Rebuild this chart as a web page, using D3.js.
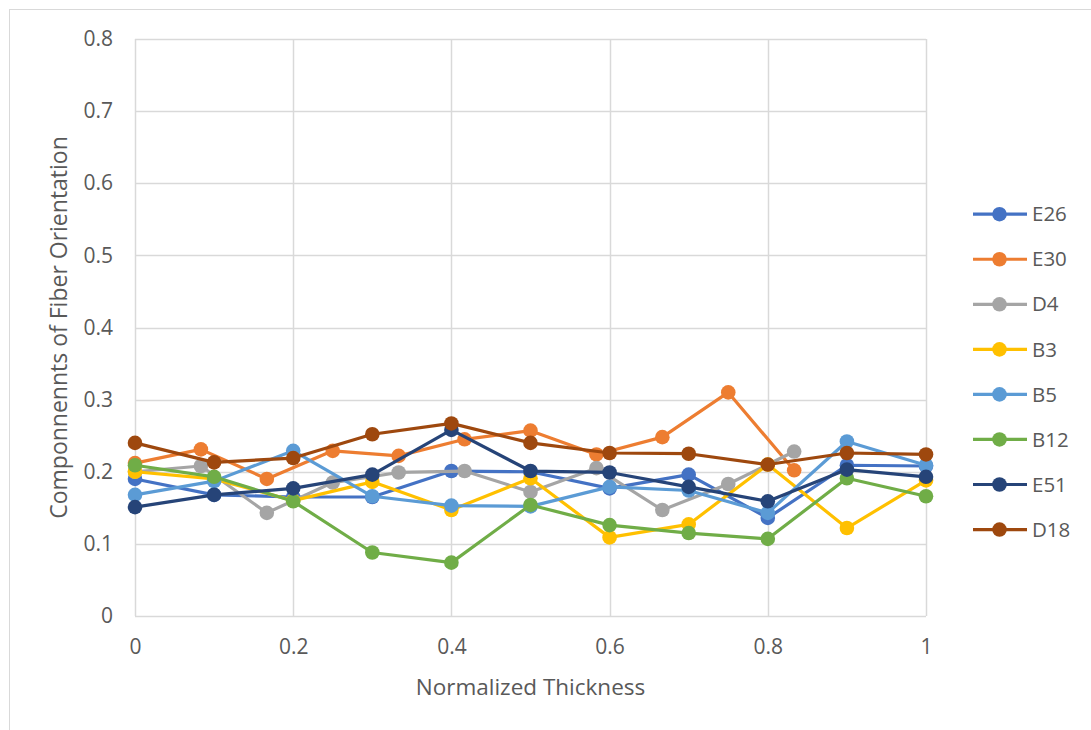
<!DOCTYPE html>
<html>
<head>
<meta charset="utf-8">
<script src="https://cdn.jsdelivr.net/npm/d3@7"></script>
<style>
  html, body { margin: 0; padding: 0; background: #fff; }
  svg { display: block; font-family: "Open Sans", sans-serif; }
</style>
</head>
<body>
<svg id="chart" width="1091" height="730"></svg>
<script>
// Sample positions along the normalized thickness
const xTenths = [0, 0.1, 0.2, 0.3, 0.4, 0.5, 0.6, 0.7, 0.8, 0.9, 1];
const xTwelfths = [0, 1/12, 2/12, 3/12, 4/12, 5/12, 6/12, 7/12, 8/12, 9/12, 10/12];

// Fiber orientation components per specimen
const E26 = [0.190, 0.168, 0.165, 0.165, 0.201, 0.200, 0.177, 0.196, 0.136, 0.209, 0.208];
const E30 = [0.212, 0.231, 0.190, 0.229, 0.222, 0.245, 0.257, 0.224, 0.248, 0.310, 0.202];
const D4  = [0.200, 0.208, 0.143, 0.185, 0.199, 0.201, 0.172, 0.205, 0.147, 0.183, 0.228];
const B3  = [0.200, 0.190, 0.160, 0.186, 0.147, 0.191, 0.109, 0.127, 0.210, 0.122, 0.188];
const B5  = [0.168, 0.187, 0.229, 0.166, 0.153, 0.152, 0.179, 0.174, 0.143, 0.242, 0.209];
const B12 = [0.209, 0.193, 0.159, 0.088, 0.074, 0.154, 0.126, 0.115, 0.107, 0.191, 0.166];
const E51 = [0.151, 0.168, 0.177, 0.196, 0.258, 0.201, 0.199, 0.179, 0.159, 0.203, 0.193];
const D18 = [0.240, 0.213, 0.219, 0.252, 0.267, 0.240, 0.226, 0.225, 0.210, 0.226, 0.224];

const seriesNames = ["E26", "E30", "D4", "B3", "B5", "B12", "E51", "D18"];
const seriesColors = ["#4472C4", "#ED7D31", "#A5A5A5", "#FFC000", "#5B9BD5", "#70AD47", "#264478", "#9E480E"];

const xTicks = [0, 0.2, 0.4, 0.6, 0.8, 1];
const yTicks = [0, 0.1, 0.2, 0.3, 0.4, 0.5, 0.6, 0.7, 0.8];

const xTitle = "Normalized Thickness";
const yTitle = "Componnennts of Fiber Orientation";

const series = [
  { name: "E26", x: xTenths, y: E26 },
  { name: "E30", x: xTwelfths, y: E30 },
  { name: "D4", x: xTwelfths, y: D4 },
  { name: "B3", x: xTenths, y: B3 },
  { name: "B5", x: xTenths, y: B5 },
  { name: "B12", x: xTenths, y: B12 },
  { name: "E51", x: xTenths, y: E51 },
  { name: "D18", x: xTenths, y: D18 }
].map(s => ({ ...s, points: s.x.map((xv, i) => ({ x: xv, y: s.y[i] })) }));

const color = d3.scaleOrdinal().domain(seriesNames).range(seriesColors);

const svg = d3.select("#chart");
const W = 1091, H = 730;
const plot = { left: 135, right: 926, top: 39, bottom: 616 };

// Outer chart frame
svg.append("rect")
  .attr("x", 9.5).attr("y", 9.5)
  .attr("width", W + 20).attr("height", H + 20)
  .attr("fill", "#fff").attr("stroke", "#d9d9d9").attr("stroke-width", 1);

const x = d3.scaleLinear().domain([0, 1]).range([plot.left, plot.right]);
const y = d3.scaleLinear().domain([0, 0.8]).range([plot.bottom, plot.top]);

// Gridlines
const grid = svg.append("g").attr("class", "grid");
grid.selectAll("line.h").data(yTicks).join("line")
  .attr("class", "h")
  .attr("x1", plot.left).attr("x2", plot.right)
  .attr("y1", d => Math.round(y(d)) + 0.5).attr("y2", d => Math.round(y(d)) + 0.5)
  .attr("stroke", "#d9d9d9").attr("stroke-width", 1.5);
grid.selectAll("line.v").data(xTicks).join("line")
  .attr("class", "v")
  .attr("y1", plot.top).attr("y2", plot.bottom)
  .attr("x1", d => Math.round(x(d)) + 0.5).attr("x2", d => Math.round(x(d)) + 0.5)
  .attr("stroke", "#d9d9d9").attr("stroke-width", 1.5);

// Axes (labels only; lines come from the grid)
const xAxis = svg.append("g")
  .attr("transform", `translate(0,${plot.bottom})`)
  .call(d3.axisBottom(x).tickValues(xTicks).tickFormat(d3.format("~g")).tickSize(0).tickPadding(23));
const yAxis = svg.append("g")
  .attr("transform", `translate(${plot.left},0)`)
  .call(d3.axisLeft(y).tickValues(yTicks).tickFormat(d3.format("~g")).tickSize(0).tickPadding(22));
[xAxis, yAxis].forEach(a => {
  a.select(".domain").remove();
  a.selectAll("text").attr("fill", "#595959").attr("font-size", 21).attr("font-family", "Open Sans, sans-serif");
});

// Axis titles
svg.append("text")
  .attr("x", (plot.left + plot.right) / 2).attr("y", 695)
  .attr("text-anchor", "middle").attr("fill", "#595959").attr("font-size", 22.5)
  .text(xTitle);
svg.append("text")
  .attr("transform", `translate(67,${(plot.top + plot.bottom) / 2}) rotate(-90)`)
  .attr("text-anchor", "middle").attr("fill", "#595959").attr("font-size", 23)
  .text(yTitle);

// Series lines and markers
const line = d3.line().x(d => x(d.x)).y(d => y(d.y));
const sg = svg.append("g").selectAll("g").data(series).join("g");
sg.append("path")
  .attr("d", d => line(d.points))
  .attr("fill", "none")
  .attr("stroke", d => color(d.name))
  .attr("stroke-width", 3.2)
  .attr("stroke-linejoin", "round");
sg.selectAll("circle").data(d => d.points.map(p => ({ ...p, name: d.name }))).join("circle")
  .attr("cx", d => x(d.x)).attr("cy", d => y(d.y)).attr("r", 7.3)
  .attr("fill", d => color(d.name));

// Legend
const legend = svg.append("g");
const li = legend.selectAll("g").data(seriesNames).join("g")
  .attr("transform", (d, i) => `translate(0,${214.2 + i * 45.05})`);
li.append("line")
  .attr("x1", 973).attr("x2", 1027).attr("y1", 0).attr("y2", 0)
  .attr("stroke", d => color(d)).attr("stroke-width", 3.2);
li.append("circle").attr("cx", 999.5).attr("cy", 0).attr("r", 7.3).attr("fill", d => color(d));
li.append("text")
  .attr("x", 1032).attr("y", 0).attr("dy", "0.35em")
  .attr("fill", "#595959").attr("font-size", 20.5)
  .text(d => d);
</script>
</body>
</html>
